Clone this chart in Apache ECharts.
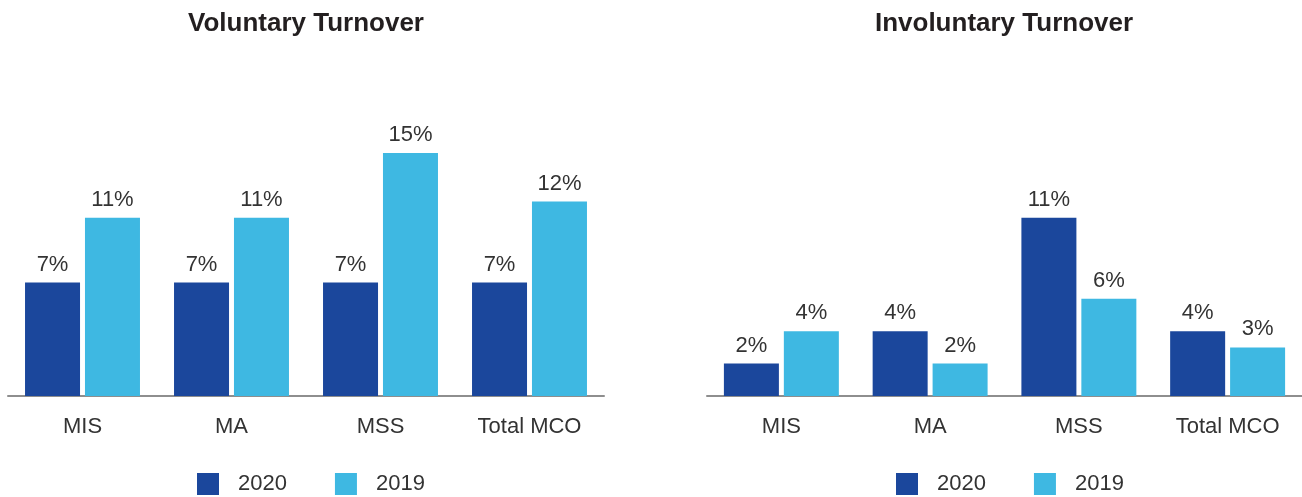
<!DOCTYPE html>
<html>
<head>
<meta charset="utf-8">
<script src="https://cdn.jsdelivr.net/npm/echarts@6/dist/echarts.min.js"></script>
<style>
  html, body { margin: 0; padding: 0; background: #fff; }
  #chart { width: 1302px; height: 497px; }
</style>
</head>
<body>
<div id="chart"></div>
<script>
// Turnover rates by business unit, 2020 vs 2019 (percent)
const categories = ['MIS', 'MA', 'MSS', 'Total MCO'];
const seriesNames = ['2020', '2019'];
const voluntary2020 = [7, 7, 7, 7];
const voluntary2019 = [11, 11, 15, 12];
const involuntary2020 = [2, 4, 11, 4];
const involuntary2019 = [4, 2, 6, 3];
const panelTitles = ['Voluntary Turnover', 'Involuntary Turnover'];

const DARK = '#1b479c';
const LIGHT = '#3eb8e2';
const TEXT = '#333333';
const FONT = '"Liberation Sans", Arial, sans-serif';

const grids = [
  { left: 8, top: 72, width: 596, height: 324 },
  { left: 707, top: 72, width: 596, height: 324 }
];

function xAxis(gridIndex) {
  return {
    type: 'category',
    gridIndex,
    data: categories,
    axisTick: { show: false },
    axisLine: { lineStyle: { color: '#8e8e8e', width: 2 } },
    axisLabel: { color: TEXT, fontSize: 22, fontFamily: FONT, margin: 20 }
  };
}
function yAxis(gridIndex) {
  return { type: 'value', gridIndex, min: 0, max: 20, show: false, splitLine: { show: false } };
}
function bars(name, data, idx, color) {
  return {
    type: 'bar',
    name,
    data,
    xAxisIndex: idx,
    yAxisIndex: idx,
    barWidth: 55,
    barGap: '9%',
    itemStyle: { color },
    label: {
      show: true,
      position: 'top',
      distance: 7,
      formatter: '{c}%',
      color: TEXT,
      fontSize: 22,
      fontFamily: FONT
    }
  };
}
function legend(left) {
  return {
    left, top: 473,
    padding: 0,
    itemWidth: 22, itemHeight: 22,
    itemGap: 48,
    icon: 'rect',
    data: seriesNames,
    textStyle: { color: TEXT, fontSize: 22, fontFamily: FONT, padding: [4, 0, 0, 14] }
  };
}

const chart = echarts.init(document.getElementById('chart'), null, { renderer: 'canvas' });
chart.setOption({
  animation: false,
  backgroundColor: '#fff',
  title: [
    { text: panelTitles[0], left: 306, top: 11, textAlign: 'center', padding: 0,
      textStyle: { color: '#231f20', fontSize: 26, fontWeight: 'bold', fontFamily: FONT } },
    { text: panelTitles[1], left: 1004, top: 11, textAlign: 'center', padding: 0,
      textStyle: { color: '#231f20', fontSize: 26, fontWeight: 'bold', fontFamily: FONT } }
  ],
  legend: [legend(197), legend(896)],
  grid: grids,
  xAxis: [xAxis(0), xAxis(1)],
  yAxis: [yAxis(0), yAxis(1)],
  series: [
    bars(seriesNames[0], voluntary2020, 0, DARK),
    bars(seriesNames[1], voluntary2019, 0, LIGHT),
    bars(seriesNames[0], involuntary2020, 1, DARK),
    bars(seriesNames[1], involuntary2019, 1, LIGHT)
  ]
});
</script>
</body>
</html>
